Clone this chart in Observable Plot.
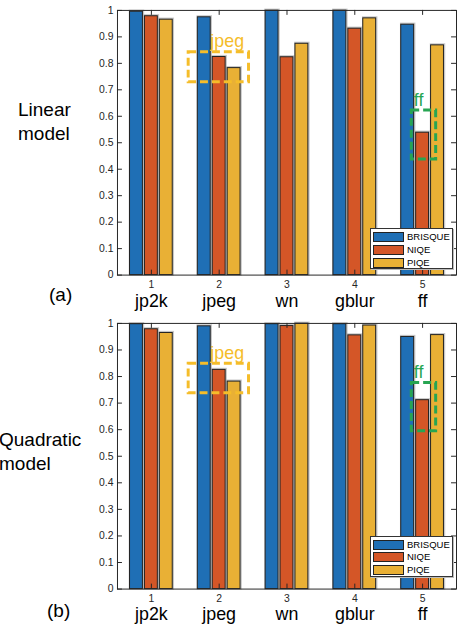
<!DOCTYPE html>
<html><head><meta charset="utf-8">
<script src="https://cdn.jsdelivr.net/npm/d3@7"></script>
<script src="https://cdn.jsdelivr.net/npm/@observablehq/plot@0.6"></script>
<style>
html,body{margin:0;padding:0;width:457px;height:630px;overflow:hidden;background:#fff;font-family:"Liberation Sans",Arial,Helvetica,sans-serif;}
.panel{position:absolute;left:0;}
.lab{position:absolute;font-size:19px;color:#000;line-height:23.5px;white-space:nowrap;}
.legend{position:absolute;width:81px;height:39px;border:1px solid #333;background:#fff;box-shadow:1px 1px 0 #bbb;}
.row{position:absolute;left:2px;height:11px;font-size:9.5px;line-height:11px;color:#000;}
.sw{position:absolute;left:0;top:1px;width:29px;height:8px;border:1px solid #222;}
.tx{position:absolute;left:34px;top:0;}
</style></head>
<body>
<div id="root"></div>
<script>
const categories = ["jp2k","jpeg","wn","gblur","ff"];
const categoryTicks = [1,2,3,4,5];
const series = ["BRISQUE","NIQE","PIQE"];
const seriesColors = ["#1f6fb5","#d45627","#e9b035"];
const yTicks = [0,0.1,0.2,0.3,0.4,0.5,0.6,0.7,0.8,0.9,1];

const linearBRISQUE = [0.995, 0.974, 0.999, 0.999, 0.946];
const linearNIQE    = [0.978, 0.824, 0.823, 0.931, 0.538];
const linearPIQE    = [0.965, 0.782, 0.874, 0.970, 0.868];

const quadBRISQUE = [0.997, 0.989, 0.997, 0.997, 0.949];
const quadNIQE    = [0.978, 0.825, 0.990, 0.955, 0.711];
const quadPIQE    = [0.964, 0.781, 0.999, 0.992, 0.956];

const boxLabels = ["jpeg","ff"];
const boxColors = ["#f5bd2a","#27a552"];
const linearBoxX1 = [1.55, 4.84], linearBoxX2 = [2.44, 5.20];
const linearBoxY1 = [0.729, 0.437], linearBoxY2 = [0.842, 0.622];
const linearLabelX = [1.87, 4.87];
const quadBoxX1 = [1.55, 4.84], quadBoxX2 = [2.44, 5.20];
const quadBoxY1 = [0.737, 0.594], quadBoxY2 = [0.848, 0.776];
const quadLabelX = [1.87, 4.87];

const offsets = {BRISQUE: -0.22, NIQE: 0, PIQE: 0.22};
const halfW = 0.095;
const W = 461, mL = 118, mR = 1;

function makePanel({top, height, mT, mB, values, bx1, bx2, by1, by2, lx, numPad, namePad}) {
  const table = [];
  categories.forEach((c, i) => series.forEach((s, j) => table.push({x: categoryTicks[i], s, v: values[j][i]})));
  const boxes = boxLabels.map((l, i) => ({label: l, color: boxColors[i], x1: bx1[i], x2: bx2[i], y1: by1[i], y2: by2[i], lx: lx[i]}));
  const fw = W - mL - mR, fh = height - mT - mB;
  const ink = "#262626";
  const plot = Plot.plot({
    width: W, height, marginLeft: mL, marginRight: mR, marginTop: mT, marginBottom: mB,
    style: {fontFamily: '"Liberation Sans",Arial,Helvetica,sans-serif', background: "transparent", overflow: "visible"},
    x: {type: "linear", domain: [0.5, 5.5], axis: null},
    y: {domain: [0, 1], axis: null},
    color: {domain: series, range: seriesColors},
    marks: [
      Plot.rectY(table, {x1: d => d.x + offsets[d.s] - halfW, x2: d => d.x + offsets[d.s] + halfW, y: "v", fill: "none", stroke: "#999", strokeWidth: 2.6, strokeOpacity: 0.55, dx: 0.5, dy: -0.3}),
      Plot.rectY(table, {x1: d => d.x + offsets[d.s] - halfW, x2: d => d.x + offsets[d.s] + halfW, y: "v", fill: "s", stroke: "#222", strokeWidth: 1}),
      Plot.tickY(yTicks, {y: d => d, insetRight: fw - 5, stroke: ink}),
      Plot.tickY(yTicks, {y: d => d, insetLeft: fw - 5, stroke: ink}),
      Plot.tickX(categoryTicks, {x: d => d, insetTop: fh - 5, stroke: ink}),
      Plot.tickX(categoryTicks, {x: d => d, insetBottom: fh - 5, stroke: ink}),
      Plot.frame({stroke: ink, strokeWidth: 1}),
      Plot.axisY({ticks: yTicks, tickSize: 0, tickPadding: 4, fontSize: 10.5, fill: ink, tickFormat: d => String(+d.toFixed(1))}),
      Plot.axisX({ticks: categoryTicks, tickSize: 0, tickPadding: numPad, fontSize: 10.5, fill: ink, tickFormat: d => String(d)}),
      Plot.axisX({ticks: categoryTicks, tickSize: 0, tickPadding: namePad, fontSize: 18, fill: "#000", tickFormat: d => categories[d - 1]}),
      Plot.rect(boxes, {x1: "x1", x2: "x2", y1: "y1", y2: "y2", fill: "none", stroke: d => d.color, strokeWidth: 3, strokeDasharray: "8,4"}),
      Plot.text(boxes, {x: "lx", y: "y2", text: "label", fill: d => d.color, fontSize: 18, textAnchor: "start", lineAnchor: "bottom", dy: -5})
    ]
  });
  const div = document.createElement("div");
  div.className = "panel";
  div.style.top = top + "px";
  div.appendChild(plot);
  document.getElementById("root").appendChild(div);
}

function addLabel(lines, left, top) {
  const d = document.createElement("div");
  d.className = "lab";
  d.style.left = left + "px"; d.style.top = top + "px";
  d.innerHTML = lines.join("<br>");
  document.body.appendChild(d);
}

function addLegend(left, top, rowTops) {
  const lg = document.createElement("div");
  lg.className = "legend";
  lg.style.left = left + "px"; lg.style.top = top + "px";
  series.forEach((s, i) => {
    const r = document.createElement("div");
    r.className = "row"; r.style.top = rowTops[i] + "px";
    r.innerHTML = `<div class="sw" style="background:${seriesColors[i]}"></div><div class="tx">${s}</div>`;
    lg.appendChild(r);
  });
  document.body.appendChild(lg);
}

makePanel({top: 0, height: 313, mT: 10, mB: 36, values: [linearBRISQUE, linearNIQE, linearPIQE],
  bx1: linearBoxX1, bx2: linearBoxX2, by1: linearBoxY1, by2: linearBoxY2, lx: linearLabelX, numPad: 6, namePad: 19});
makePanel({top: 313, height: 317, mT: 10, mB: 39, values: [quadBRISQUE, quadNIQE, quadPIQE],
  bx1: quadBoxX1, bx2: quadBoxX2, by1: quadBoxY1, by2: quadBoxY2, lx: quadLabelX, numPad: 6, namePad: 18});

addLabel(["Linear", "model"], 18, 98);
addLabel(["Quadratic", "model"], -1, 428);
addLabel(["(a)"], 49, 283);
addLabel(["(b)"], 47, 599);
addLegend(370, 228, [2, 15, 28]);
addLegend(370, 536, [2, 14, 27]);
</script>
</body></html>
